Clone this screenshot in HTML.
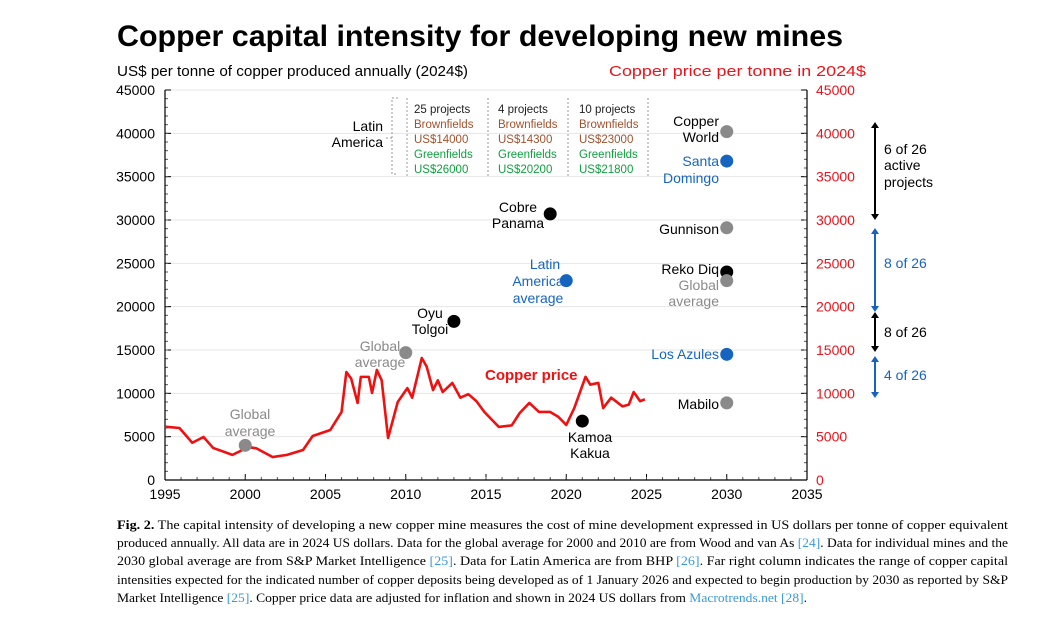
<!DOCTYPE html>
<html><head><meta charset="utf-8"><style>
html,body{margin:0;padding:0;background:#fff;width:1042px;height:623px;overflow:hidden}
svg{display:block;font-family:"Liberation Sans",Arial,sans-serif}
</style></head><body>
<svg id="c" width="1042" height="623">
<text x="117" y="46" font-size="30" font-weight="bold" textLength="726" lengthAdjust="spacingAndGlyphs">Copper capital intensity for developing new mines</text>
<text x="117" y="76" font-size="15" textLength="351" lengthAdjust="spacingAndGlyphs">US$ per tonne of copper produced annually (2024$)</text>
<text x="609" y="76" font-size="15" fill="#e8141b" textLength="257" lengthAdjust="spacingAndGlyphs">Copper price per tonne in 2024$</text>
<g id="grid"></g><g id="axes"></g><g id="annot"></g><g id="line"></g><g id="pts"></g>
<g font-family="Liberation Serif,serif" font-size="13">
<text x="117" y="529" textLength="891" lengthAdjust="spacingAndGlyphs"><tspan font-weight="bold">Fig. 2.</tspan> The capital intensity of developing a new copper mine measures the cost of mine development expressed in US dollars per tonne of copper equivalent</text>
<text x="117" y="547" textLength="891" lengthAdjust="spacingAndGlyphs">produced annually. All data are in 2024 US dollars. Data for the global average for 2000 and 2010 are from Wood and van As <tspan fill="#3a9ad9">[24]</tspan>. Data for individual mines and the</text>
<text x="117" y="565" textLength="891" lengthAdjust="spacingAndGlyphs">2030 global average are from S&amp;P Market Intelligence <tspan fill="#3a9ad9">[25]</tspan>. Data for Latin America are from BHP <tspan fill="#3a9ad9">[26]</tspan>. Far right column indicates the range of copper capital</text>
<text x="117" y="584" textLength="891" lengthAdjust="spacingAndGlyphs">intensities expected for the indicated number of copper deposits being developed as of 1 January 2026 and expected to begin production by 2030 as reported by S&amp;P</text>
<text x="117" y="602" textLength="690" lengthAdjust="spacingAndGlyphs">Market Intelligence <tspan fill="#3a9ad9">[25]</tspan>. Copper price data are adjusted for inflation and shown in 2024 US dollars from <tspan fill="#3a9ad9">Macrotrends.net [28]</tspan>.</text>
</g>
</svg>
<script>
const priceYears=[1995.0,1995.9,1996.7,1997.4,1998.0,1999.2,2000.2,2000.7,2001.7,2002.6,2003.6,2004.2,2005.3,2006.0,2006.3,2006.6,2007.0,2007.2,2007.7,2007.9,2008.2,2008.5,2008.9,2009.5,2010.1,2010.4,2011.0,2011.3,2011.7,2012.0,2012.3,2012.9,2013.4,2013.9,2014.4,2014.9,2015.8,2016.6,2017.1,2017.7,2018.3,2019.0,2019.5,2020.0,2020.5,2021.2,2021.5,2022.0,2022.3,2022.8,2023.5,2023.9,2024.2,2024.6,2024.9];
const priceValues=[6150,6000,4300,4960,3700,2900,3800,3650,2650,2900,3460,5080,5770,7850,12460,11700,8890,11900,11900,10040,12700,11500,4850,9000,10600,9500,14080,13100,10380,11500,10150,11200,9500,9900,9100,7850,6120,6300,7730,8890,7850,7850,7300,6350,8300,11900,11000,11200,8300,9500,8500,8700,10150,9100,9300];
const pointNames=["global-2000","global-2010","oyu-tolgoi","cobre-panama","latin-america-average","kamoa-kakua","copper-world","santa-domingo","gunnison","reko-diq","global-2030","los-azules","mabilo"];
const pointYears=[2000,2010,2013,2019,2020,2021,2030,2030,2030,2030,2030,2030,2030];
const pointValues=[4000,14700,18300,30700,23000,6800,40200,36800,29100,24000,23000,14500,8900];
const pointColors=["#8a8a8a","#8a8a8a","#000","#000","#1565c0","#000","#8a8a8a","#1565c0","#8a8a8a","#000","#8a8a8a","#1565c0","#8a8a8a"];
const xTicks=[1995,2000,2005,2010,2015,2020,2025,2030,2035];
const yTicks=[0,5000,10000,15000,20000,25000,30000,35000,40000,45000];
const NS="http://www.w3.org/2000/svg";
const X=y=>165+(y-1995)*16.05, Y=v=>480-v*390/45000;
function mk(p,t,a,txt){const e=document.createElementNS(NS,t);for(const k in a)e.setAttribute(k,a[k]);if(txt!=null)e.textContent=txt;document.getElementById(p).appendChild(e);return e;}
yTicks.forEach(v=>{
 if(v>0){const g=mk('grid','line',{x1:165,x2:807,y1:Y(v),y2:Y(v),stroke:'#e6e6e6','stroke-width':1});
 
 }
 const l=mk('axes','text',{x:155,y:Y(v)+5,'font-size':14,'text-anchor':'end'},v);
 
 
 const r=mk('axes','text',{x:816,y:Y(v)+5,'font-size':14,fill:'#e8141b'},v);
 
 
 mk('axes','line',{x1:165,x2:171,y1:Y(v),y2:Y(v),stroke:'#000'});
 mk('axes','line',{x1:801,x2:807,y1:Y(v),y2:Y(v),stroke:'#000'});
});
for(let v=1000;v<45000;v+=1000){mk('axes','line',{x1:165,x2:168,y1:Y(v),y2:Y(v),stroke:'#555'});mk('axes','line',{x1:804,x2:807,y1:Y(v),y2:Y(v),stroke:'#555'});}
xTicks.forEach(t=>{
 const l=mk('axes','text',{x:X(t),y:499,'font-size':14,'text-anchor':'middle'},t);
 
 
 mk('axes','line',{x1:X(t),x2:X(t),y1:480,y2:474,stroke:'#000'});
});
for(let t=1996;t<2035;t++)mk('axes','line',{x1:X(t),x2:X(t),y1:480,y2:477,stroke:'#555'});
mk('axes','line',{x1:165,x2:165,y1:90,y2:480,stroke:'#000','stroke-width':1.2});
mk('axes','line',{x1:807,x2:807,y1:90,y2:480,stroke:'#000','stroke-width':1.2});
mk('axes','line',{x1:165,x2:807,y1:480,y2:480,stroke:'#000','stroke-width':1.2});
const pl=mk('line','polyline',{points:priceYears.map((y,i)=>X(y)+','+Y(priceValues[i])).join(' '),fill:'none',stroke:'#f01010','stroke-width':2.6,'stroke-linejoin':'round'});


const cl=mk('line','text',{x:485,y:380,'font-size':15,'font-weight':'bold',fill:'#f01010'},'Copper price');


pointYears.forEach((y,i)=>{
 const c=mk('pts','circle',{cx:X(y),cy:Y(pointValues[i]),r:6.5,fill:pointColors[i]});
 
 
});
const labels=[
 [250,419,'#8a8a8a','middle','Global'],[250,436,'#8a8a8a','middle','average'],
 [380,351,'#8a8a8a','middle','Global'],[380,367,'#8a8a8a','middle','average'],
 [430,318,'#000','middle','Oyu'],[430,334,'#000','middle','Tolgoi'],
 [518,212,'#000','middle','Cobre'],[518,228,'#000','middle','Panama'],
 [545,269,'#1565c0','middle','Latin'],[538,286,'#1565c0','middle','America'],[538,303,'#1565c0','middle','average'],
 [590,442,'#000','middle','Kamoa'],[590,458,'#000','middle','Kakua'],
 [719,126,'#000','end','Copper'],[719,142,'#000','end','World'],
 [719,166,'#1565c0','end','Santa'],[719,183,'#1565c0','end','Domingo'],
 [719,234,'#000','end','Gunnison'],
 [719,274,'#000','end','Reko Diq'],[719,290,'#8a8a8a','end','Global'],[719,306,'#8a8a8a','end','average'],
 [719,359,'#1565c0','end','Los Azules'],[719,409,'#000','end','Mabilo'],
 [383,131,'#000','end','Latin'],[383,147,'#000','end','America']];
labels.forEach(a=>{const t=mk('annot','text',{x:a[0],y:a[1],'font-size':14,fill:a[2],'text-anchor':a[3]},a[4]);
 
 });
[[407,'25 projects','US$14000','US$26000'],[491,'4 projects','US$14300','US$20200'],[572,'10 projects','US$23000','US$21800']].forEach(b=>{
 const x=b[0]+7;
 [[b[1],'#222',113],['Brownfields','#a0522d',128],[b[2],'#a0522d',143],['Greenfields','#10a040',158],[b[3],'#10a040',173]].forEach(r=>{
  const t=mk('annot','text',{x:x,y:r[2],'font-size':11.5,fill:r[1]},r[0]);
  
  });
});
[407,488,568,648].forEach(x=>mk('annot','line',{x1:x,x2:x,y1:98,y2:176,stroke:'#999','stroke-dasharray':'2,2'}));
mk('annot','path',{d:'M398,98 H392 V174 H398 M392,138 H386',fill:'none',stroke:'#999','stroke-dasharray':'2,2'});
const arrows=[[122,220,'#000'],[228,312,'#1565c0'],[312,352,'#000'],[356,398,'#1565c0']];
arrows.forEach(a=>{
 const g=mk('annot','g',{});
 
 
 const l=document.createElementNS(NS,'line');l.setAttribute('x1',875);l.setAttribute('x2',875);l.setAttribute('y1',a[0]+3);l.setAttribute('y2',a[1]-3);l.setAttribute('stroke',a[2]);l.setAttribute('stroke-width',2);g.appendChild(l);
 const p=document.createElementNS(NS,'path');p.setAttribute('d',`M871,${a[0]+6} L875,${a[0]} L879,${a[0]+6} Z M871,${a[1]-6} L875,${a[1]} L879,${a[1]-6} Z`);p.setAttribute('fill',a[2]);g.appendChild(p);
});
[[884,154,'#000','6 of 26'],[884,170,'#000','active'],[884,187,'#000','projects'],[884,268,'#1565c0','8 of 26'],[884,337,'#000','8 of 26'],[884,380,'#1565c0','4 of 26']].forEach(a=>{
 const t=mk('annot','text',{x:a[0],y:a[1],'font-size':14,fill:a[2]},a[3]);
 
 });
</script>
</body></html>
